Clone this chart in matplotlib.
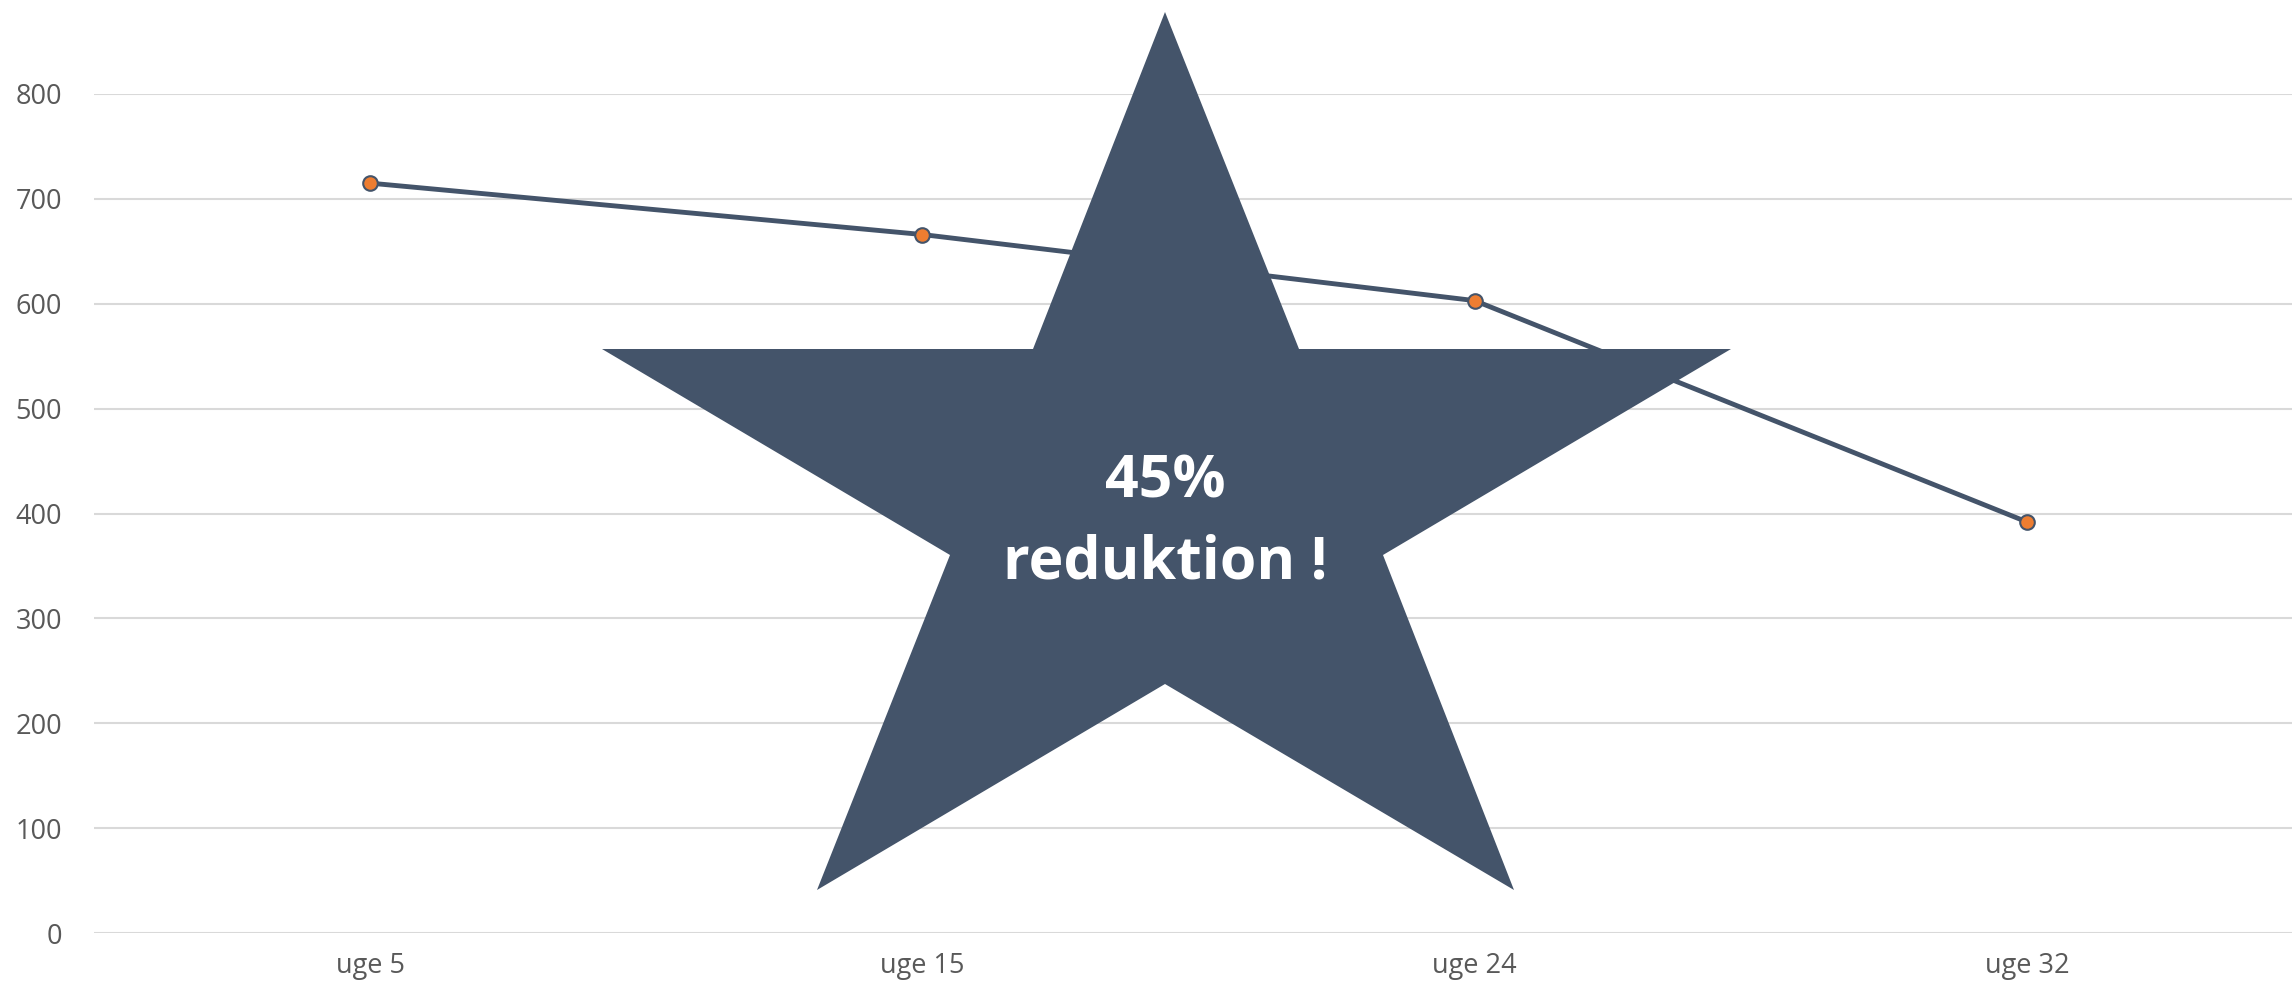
import numpy as np
import matplotlib
matplotlib.use("Agg")
import matplotlib.pyplot as plt
from matplotlib.patches import Polygon

plt.rcParams['font.family'] = ['Open Sans', 'DejaVu Sans']

weeks = ["uge 5", "uge 15", "uge 24", "uge 32"]
values = [715, 666, 603, 392]
yticks = [0, 100, 200, 300, 400, 500, 600, 700, 800]

W, H = 2292, 991
fig = plt.figure(figsize=(W / 100, H / 100), dpi=100)
ax = fig.add_axes([94 / W, (H - 933) / H, 2209 / W, 839 / H])

x = np.arange(len(weeks))
ax.plot(x, values, color='#44546A', lw=3.5, marker='o', ms=10.5,
        markerfacecolor='#ED7D31', markeredgecolor='#44546A', markeredgewidth=1.5,
        zorder=3)

ax.set_xlim(-0.5, len(weeks) - 0.5)
ax.set_ylim(0, 800)
ax.set_yticks(yticks)
ax.set_xticks(x)
ax.set_xticklabels(weeks)
ax.grid(axis='y', color='#D9D9D9', lw=1.5)
ax.set_axisbelow(True)
for s in ax.spines.values():
    s.set_visible(False)
ax.tick_params(axis='both', length=0, labelsize=19.5, labelcolor='#595959')
ax.tick_params(axis='y', pad=23)
ax.tick_params(axis='x', pad=14)

# star callout (pixel positions of the shape, converted to figure fraction)
star_px = [(1165, 12), (1299, 349), (1731, 349), (1383, 555), (1514, 890),
           (1165, 684), (817, 890), (950, 555), (602, 349), (1033, 349)]
star = Polygon([(px / W, 1 - py / H) for px, py in star_px], closed=True,
               transform=fig.transFigure, facecolor='#44546A', edgecolor='none',
               zorder=10)
fig.patches.append(star)
fig.text(1165 / W, 1 - 482 / H, "45%", color='white', fontsize=42.5,
         fontweight='bold', ha='center', va='center', zorder=11)
fig.text(1165 / W, 1 - 563 / H, "reduktion !", color='white', fontsize=42.5,
         fontweight='bold', ha='center', va='center', zorder=11)

fig.savefig("out.png", dpi=100)
